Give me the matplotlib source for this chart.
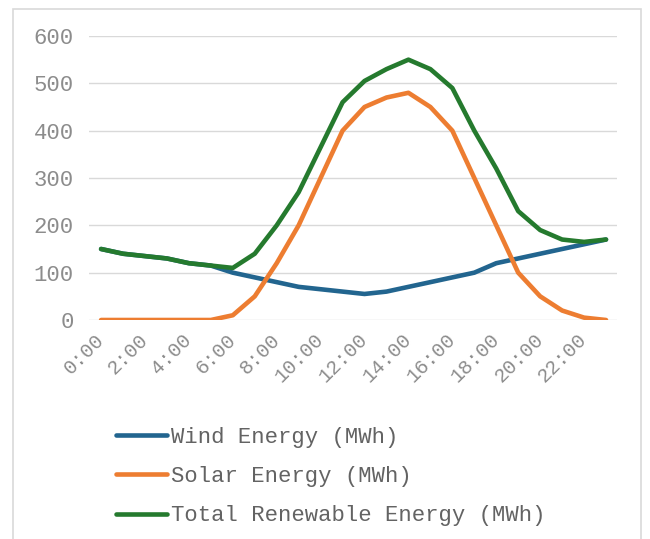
import matplotlib.pyplot as plt
from matplotlib.patches import Rectangle

hours = [f'{h}:00' for h in range(24)]
wind = [150, 140, 135, 130, 120, 115, 100, 90, 80, 70, 65, 60,
        55, 60, 70, 80, 90, 100, 120, 130, 140, 150, 160, 170]
solar = [0, 0, 0, 0, 0, 0, 10, 50, 120, 200, 300, 400,
         450, 470, 480, 450, 400, 300, 200, 100, 50, 20, 5, 0]
total = [w + s for w, s in zip(wind, solar)]

labels = ['Wind Energy (MWh)', 'Solar Energy (MWh)', 'Total Renewable Energy (MWh)']
colors = ['#22658f', '#ed7d31', '#257a2e']

plt.rcParams['font.family'] = ['Liberation Mono', 'DejaVu Sans Mono']

fig = plt.figure(figsize=(6.5, 5.39), dpi=100)
# chart border
fig.patches.append(Rectangle((13 / 650, -0.05), 628 / 650, 1 - 9 / 539 + 0.05,
                             transform=fig.transFigure, fill=False,
                             edgecolor='#d9d9d9', linewidth=1.2))

ax = fig.add_axes([89 / 650, (539 - 320) / 539, 528 / 650, 284 / 539])
x = list(range(len(hours)))
for ys, lab, col in zip([wind, solar, total], labels, colors):
    ax.plot(x, ys, color=col, linewidth=3.3, label=lab,
            solid_capstyle='round', solid_joinstyle='round')

ax.set_xlim(-0.55, 23.5)
ax.set_ylim(0, 600)
ax.set_yticks(range(0, 601, 100))
ax.grid(axis='y', color='#d9d9d9', linewidth=1)
ax.set_axisbelow(True)
for s in ax.spines.values():
    s.set_visible(False)

ax.set_xticks(x[::2])
ax.set_xticklabels(hours[::2], rotation=45, ha='right', va='center',
                   rotation_mode='anchor', fontsize=14.5, color='#8c8c8c')
ax.tick_params(axis='x', length=0, pad=12)
ax.tick_params(axis='y', length=0, pad=11, labelsize=16, labelcolor='#8c8c8c')

leg = ax.legend(loc='upper left', bbox_to_anchor=(107 / 650, 1 - 418 / 539),
                bbox_transform=fig.transFigure, frameon=False, fontsize=16,
                handlelength=2.3, handletextpad=0.2, labelspacing=0.82,
                borderaxespad=0)
for t in leg.get_texts():
    t.set_color('#636363')

fig.savefig('out.png', dpi=100)
